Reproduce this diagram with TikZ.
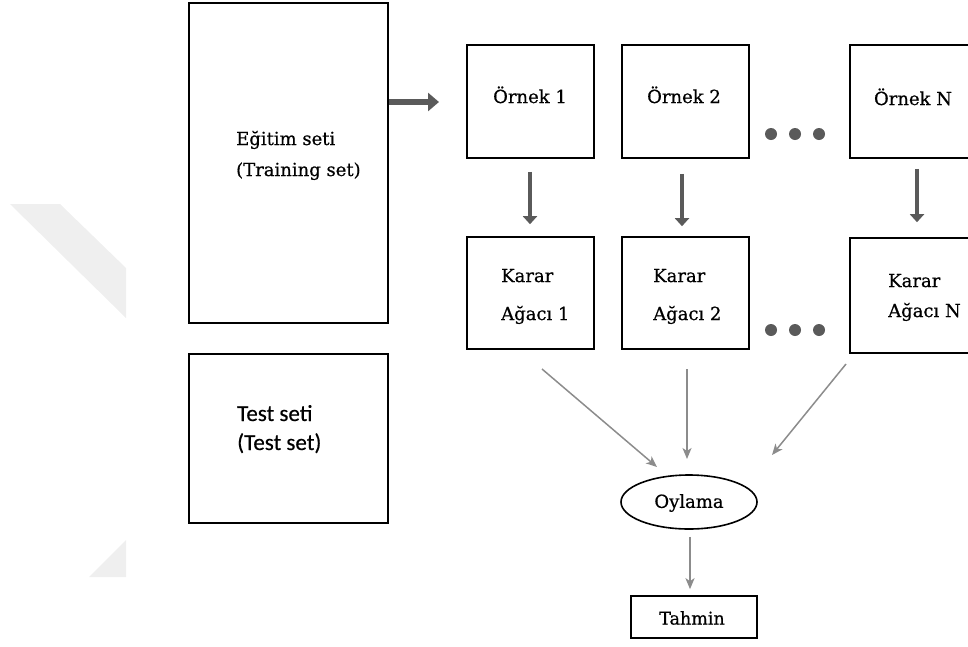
\documentclass[tikz,border=0pt]{standalone}
\usepackage{fontspec}
\setmainfont[FakeBold=0.6]{DejaVu Serif}
\newfontfamily\labelsans[FakeBold=0.4]{Carlito}
\usetikzlibrary{arrows.meta,shapes.geometric}

\definecolor{boldgrey}{HTML}{5A5A5A}
\definecolor{thingrey}{HTML}{8C8C8C}
\definecolor{markgrey}{HTML}{EFEFEF}

\begin{document}
\begin{tikzpicture}[x=1pt,y=-1pt,
  frame/.style={draw=black,line width=1.6pt,inner sep=0pt,fill=white},
  txt/.style={inner sep=0pt,font=\fontsize{18}{22}\selectfont},
  txtsans/.style={inner sep=0pt,font=\labelsans\fontsize{23}{27}\selectfont},
  heavyarrow/.style={draw=boldgrey,line width=6pt,-{Triangle[length=11pt,width=18pt]}},
  stemarrow/.style={draw=boldgrey,line width=3.6pt,-{Triangle[length=8pt,width=14pt]}},
  votearrow/.style={draw=thingrey,line width=1.5pt,-{Stealth[length=11pt,width=9pt,inset=3pt]}},
  dot/.style={circle,fill=boldgrey,inner sep=0pt,minimum size=12pt}]

\useasboundingbox (0,0) rectangle (968,646);
\clip (0,0) rectangle (968,646);

% faint background band
\fill[markgrey] (10,204) -- (60,204) -- (126,268) -- (126,318) -- cycle;
\fill[markgrey] (89,577) -- (126,577) -- (126,540) -- cycle;

% data sets
\node[frame,minimum width=199pt,minimum height=320pt] (train) at (288.5,163) {};
\node[frame,minimum width=199pt,minimum height=169pt] (test) at (288.5,438.5) {};
\node[txt,anchor=base west] (trainA) at (236,145) {Eğitim seti};
\node[txt,anchor=base west] (trainB) at (236,176) {(Training set)};
\node[txtsans,anchor=base west] (testA) at (237,421) {Test seti};
\node[txtsans,anchor=base west] (testB) at (237,450) {(Test set)};

% bootstrap samples
\node[frame,minimum width=127pt,minimum height=113pt] (s1) at (530.5,101.5) {};
\node[frame,minimum width=127pt,minimum height=113pt] (s2) at (685.5,101.5) {};
\node[frame,minimum width=127pt,minimum height=113pt] (sN) at (913.5,101.5) {};
\node[txt,anchor=base] (s1t) at (530,103) {Örnek 1};
\node[txt,anchor=base] (s2t) at (684,103) {Örnek 2};
\node[txt,anchor=base] (sNt) at (913,105) {Örnek N};

% decision trees
\node[frame,minimum width=127pt,minimum height=112pt] (t1) at (530.5,293) {};
\node[frame,minimum width=127pt,minimum height=112pt] (t2) at (685.5,293) {};
\node[frame,minimum width=127pt,minimum height=115pt] (tN) at (913.5,295.5) {};
\node[txt,anchor=base west] (t1a) at (501,282) {Karar};
\node[txt,anchor=base west] (t1b) at (501,320) {Ağacı 1};
\node[txt,anchor=base west] (t2a) at (653,282) {Karar};
\node[txt,anchor=base west] (t2b) at (653,320) {Ağacı 2};
\node[txt,anchor=base west] (tNa) at (888,287) {Karar};
\node[txt,anchor=base west] (tNb) at (888,317) {Ağacı N};

% ellipsis dots
\foreach \i/\x in {1/771,2/795,3/819}{
  \node[dot] (du\i) at (\x,134) {};
  \node[dot] (dl\i) at (\x,330) {};
}

% voting and prediction
\node[draw=black,line width=1.6pt,ellipse,minimum width=136pt,minimum height=54pt,inner sep=0pt] (vote) at (689,502) {};
\node[txt] (votet) at (689,503) {Oylama};
\node[frame,minimum width=126pt,minimum height=42pt] (pred) at (694,617) {};
\node[txt,font=\fontsize{17.5}{20}\selectfont] (predt) at (692,618) {Tahmin};

% arrows
\coordinate (trainTip) at (439,102);
\draw[heavyarrow] (train.east |- trainTip) -- (trainTip);

\draw[stemarrow] ([xshift=-0.5pt,yshift=-13pt]s1.south) -- ([xshift=-0.5pt,yshift=12pt]t1.north);
\draw[stemarrow] ([xshift=-3.5pt,yshift=-15pt]s2.south) -- ([xshift=-3.5pt,yshift=10pt]t2.north);
\draw[stemarrow] ([xshift=3.5pt,yshift=-10pt]sN.south) -- ([xshift=3.5pt,yshift=15pt]tN.north);

\coordinate (v1s) at (542,369);
\coordinate (v1e) at (657,467);
\coordinate (v2s) at (687,369);
\coordinate (v2e) at (687,459);
\coordinate (v3s) at (846,364);
\coordinate (v3e) at (772,455);
\draw[votearrow] (v1s) -- (v1e);
\draw[votearrow] (v2s) -- (v2e);
\draw[votearrow] (v3s) -- (v3e);

\draw[votearrow,line width=2pt] ([xshift=1pt,yshift=-7pt]vote.south) -- ([xshift=-4pt,yshift=6pt]pred.north);

\end{tikzpicture}
\end{document}
